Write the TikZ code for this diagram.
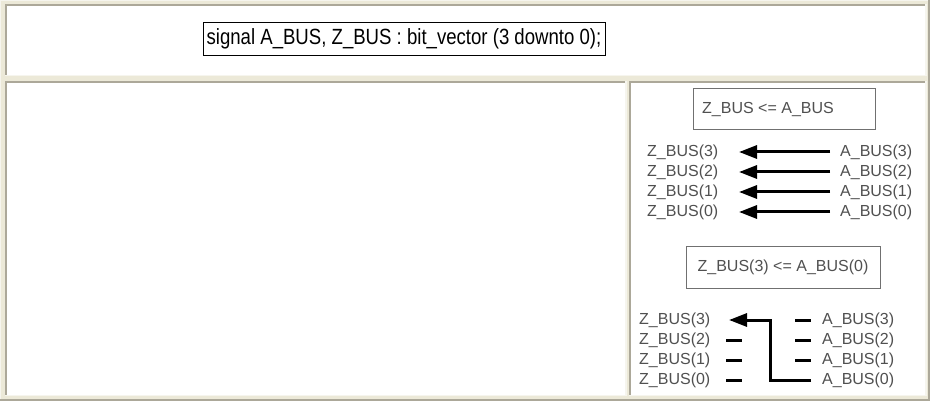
\documentclass[tikz,border=0pt]{standalone}
\usepackage{fontspec}
\setmainfont{Liberation Sans}
\usetikzlibrary{arrows.meta}
\definecolor{bg}{HTML}{ECE9D8}
\definecolor{dark}{HTML}{ACA899}
\definecolor{light}{HTML}{F6F5EE}
\definecolor{txt}{HTML}{505050}
\definecolor{boxline}{HTML}{707070}
\newcommand{\mycell}[4]{%
  \fill[white] (#1,#2) rectangle (#3,#4);
  \fill[dark] (#1,#2) rectangle (#3,#2+2);
  \fill[dark] (#1,#2) rectangle (#1+2,#4);
  \fill[light] (#1,#4-1.2) rectangle (#3,#4);
  \fill[light] (#3-1.2,#2) rectangle (#3,#4);
}
\tikzset{
  lbl/.style={anchor=west, inner sep=0pt, text=txt, font=\fontsize{16}{19}\selectfont},
  codebox/.style={draw=boxline, line width=1pt, text=txt, inner sep=0pt, font=\fontsize{16}{19}\selectfont},
  busarrow/.style={line width=3pt, -{Triangle[length=18pt,width=13pt]}},
  stub/.style={line width=3pt},
}
\begin{document}
\begin{tikzpicture}[x=1pt,y=-1pt]
\useasboundingbox (0,0) rectangle (930,401);
\fill[bg] (0,0) rectangle (930,401);
\fill[light] (0,0) rectangle (930,1);
\fill[light] (0,0) rectangle (1,401);
\fill[dark] (927.5,0) rectangle (930,401);
\fill[dark] (0,398.5) rectangle (930,401);
\mycell{4.5}{4.5}{926.5}{76.5}
\mycell{4.5}{81}{626.5}{396}
\mycell{629}{81}{926.5}{396}

% top declaration
\node[draw=black, line width=0.9pt, minimum width=402pt, minimum height=33pt, inner sep=0pt,
      font=\fontsize{22}{26}\selectfont] (decl) at (404,39)
      {\scalebox{0.845}[1]{signal A\_BUS, Z\_BUS : bit\_vector (3 downto 0);}};

% first assignment
\node[codebox, minimum width=182pt, minimum height=41pt] (as1) at (784,109.5) {};
\node[lbl] (as1t) at (702,110) {Z\_BUS <= A\_BUS};
\foreach \i/\y in {3/152,2/172,1/192,0/212}{
  \node[lbl] (z\i) at (647,\y) {Z\_BUS(\i)};
  \node[lbl] (a\i) at (840,\y) {A\_BUS(\i)};
  \coordinate (zt\i) at (739,\y);
  \coordinate (as\i) at (830,\y);
  \draw[busarrow] (as\i) -- (zt\i);
}

% second assignment
\node[codebox, minimum width=194pt, minimum height=41pt] (as2) at (783,267.5) {Z\_BUS(3) <= A\_BUS(0)};
\foreach \i/\y in {3/320,2/340,1/360,0/380}{
  \node[lbl] (zb\i) at (639,\y) {Z\_BUS(\i)};
  \node[lbl] (ab\i) at (822,\y) {A\_BUS(\i)};
  \coordinate (zl\i) at (726,\y);
  \coordinate (zr\i) at (742,\y);
  \coordinate (al\i) at (795,\y);
  \coordinate (ar\i) at (811,\y);
}
\foreach \i in {2,1,0}{ \draw[stub] (zl\i) -- (zr\i); }
\foreach \i in {3,2,1}{ \draw[stub] (al\i) -- (ar\i); }
\coordinate (tip) at (729,320);
\draw[line width=3pt, line join=miter, -{Triangle[length=18pt,width=13pt]}]
  (ar0) -- (770,380) -- (770,320) -- (tip);
\end{tikzpicture}
\end{document}
